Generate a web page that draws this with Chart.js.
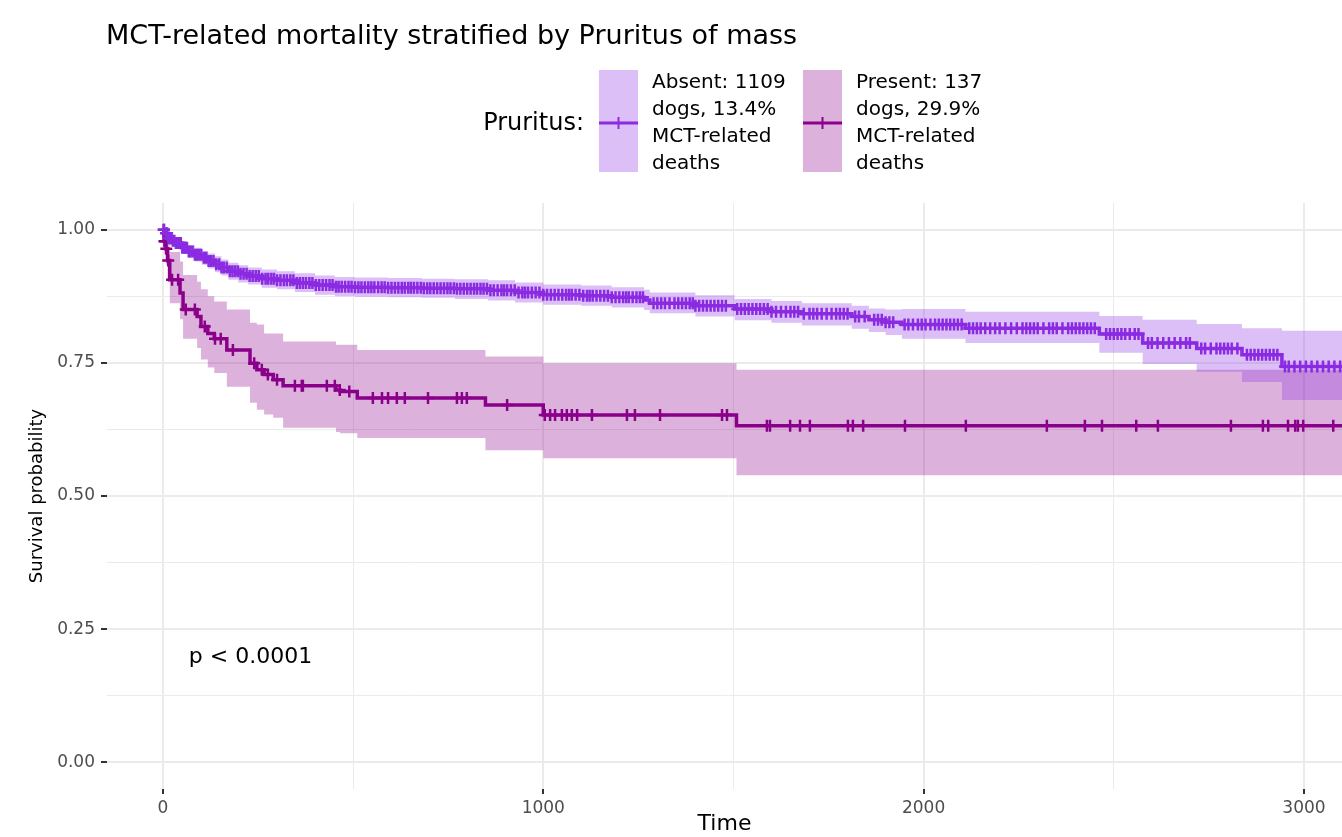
<!DOCTYPE html>
<html>
<head>
<meta charset="utf-8">
<title>MCT-related mortality stratified by Pruritus of mass</title>
<script src="https://cdn.jsdelivr.net/npm/chart.js@4/dist/chart.umd.min.js"></script>
<style>
	html, body { margin: 0; padding: 0; background: #ffffff; overflow: hidden; }
	#wrap { width: 1342px; height: 837px; }
</style>
</head>
<body>
<div id="wrap"><canvas id="figure_km" width="1342" height="837"></canvas></div>
<script>
const chartTitle = 'MCT-related mortality stratified by Pruritus of mass';
const legendTitle = 'Pruritus:';
const absentLabel = ['Absent: 1109', 'dogs, 13.4%', 'MCT-related', 'deaths'];
const presentLabel = ['Present: 137', 'dogs, 29.9%', 'MCT-related', 'deaths'];
const pValueText = 'p < 0.0001';
const pValueAt = [68, 0.197];

const xTicks = [0, 1000, 2000, 3000];
const xMinorTicks = [500, 1500, 2500];
const yTicks = [0, 0.25, 0.5, 0.75, 1];
const yMinorTicks = [0.125, 0.375, 0.625, 0.875];

// Absent group: step times, survival, 95% band
const absentTime = [0, 5, 14, 23, 32, 49, 67, 84, 102, 119, 137, 154, 172, 198, 224, 260, 300, 347, 400, 452, 505, 592, 681, 768, 855, 926, 1000, 1100, 1180, 1265, 1280, 1400, 1503, 1600, 1680, 1811, 1856, 1900, 1943, 2110, 2462, 2576, 2718, 2837, 2942, 3100];
const absentSurv = [1, 0.993, 0.984, 0.979, 0.975, 0.966, 0.959, 0.953, 0.947, 0.941, 0.935, 0.929, 0.922, 0.917, 0.913, 0.908, 0.905, 0.900, 0.896, 0.893, 0.892, 0.891, 0.890, 0.889, 0.886, 0.882, 0.878, 0.876, 0.873, 0.868, 0.862, 0.857, 0.851, 0.846, 0.842, 0.837, 0.831, 0.826, 0.822, 0.815, 0.804, 0.787, 0.777, 0.765, 0.743, 0.743];
const absentUpper = [1, 0.998, 0.992, 0.988, 0.985, 0.977, 0.971, 0.966, 0.960, 0.955, 0.950, 0.944, 0.938, 0.933, 0.929, 0.925, 0.922, 0.918, 0.914, 0.911, 0.910, 0.909, 0.908, 0.907, 0.905, 0.901, 0.897, 0.895, 0.892, 0.887, 0.882, 0.877, 0.870, 0.866, 0.862, 0.857, 0.852, 0.850, 0.851, 0.846, 0.838, 0.831, 0.823, 0.815, 0.810, 0.810];
const absentLower = [1, 0.988, 0.976, 0.970, 0.965, 0.955, 0.947, 0.940, 0.934, 0.927, 0.920, 0.914, 0.906, 0.901, 0.897, 0.891, 0.888, 0.883, 0.878, 0.875, 0.874, 0.873, 0.872, 0.870, 0.867, 0.863, 0.859, 0.857, 0.854, 0.849, 0.843, 0.837, 0.830, 0.825, 0.820, 0.814, 0.808, 0.802, 0.795, 0.787, 0.769, 0.748, 0.733, 0.714, 0.680, 0.680];
const absentCensor = [3, 8, 11, 15, 19, 22, 26, 30, 34, 38, 42, 47, 51, 55, 59, 63, 68, 72, 78, 84, 89, 95, 101, 108, 114, 120, 126, 133, 140, 148, 154, 160, 168, 176, 183, 190, 197, 204, 212, 220, 228, 236, 244, 252, 261, 270, 277, 285, 292, 300, 309, 318, 326, 335, 343, 352, 360, 368, 376, 385, 393, 402, 411, 420, 429, 438, 446, 455, 462, 470, 479, 488, 496, 505, 514, 522, 531, 540, 548, 556, 566, 575, 583, 592, 601, 610, 619, 628, 636, 645, 652, 660, 669, 678, 686, 695, 703, 712, 721, 730, 739, 748, 756, 765, 773, 782, 791, 800, 809, 818, 826, 835, 843, 852, 861, 870, 880, 890, 897, 905, 915, 925, 935, 945, 952, 960, 970, 980, 990, 1000, 1010, 1020, 1030, 1040, 1050, 1060, 1068, 1075, 1085, 1095, 1105, 1115, 1122, 1130, 1140, 1150, 1160, 1170, 1180, 1190, 1200, 1210, 1218, 1225, 1235, 1245, 1254, 1262, 1290, 1300, 1310, 1320, 1332, 1345, 1355, 1365, 1375, 1385, 1393, 1400, 1410, 1420, 1430, 1440, 1450, 1460, 1470, 1480, 1510, 1520, 1530, 1540, 1550, 1560, 1570, 1580, 1590, 1600, 1612, 1625, 1638, 1650, 1660, 1670, 1685, 1700, 1710, 1720, 1732, 1745, 1758, 1770, 1780, 1790, 1800, 1820, 1830, 1845, 1870, 1880, 1890, 1900, 1910, 1920, 1950, 1960, 1972, 1985, 1995, 2005, 2018, 2030, 2040, 2050, 2060, 2070, 2080, 2090, 2100, 2120, 2130, 2140, 2150, 2162, 2175, 2188, 2200, 2215, 2230, 2245, 2260, 2270, 2280, 2290, 2300, 2315, 2330, 2340, 2350, 2365, 2380, 2390, 2400, 2410, 2420, 2430, 2440, 2450, 2480, 2490, 2500, 2510, 2520, 2530, 2542, 2555, 2565, 2590, 2600, 2615, 2630, 2645, 2660, 2675, 2690, 2700, 2730, 2740, 2755, 2770, 2780, 2790, 2800, 2810, 2825, 2850, 2860, 2870, 2880, 2890, 2900, 2910, 2920, 2930, 2950, 2960, 2975, 2990, 3005, 3020, 3035, 3050, 3065, 3080, 3095];

// Present group: step times, survival, 95% band
const presentTime = [0, 3, 8, 12, 18, 45, 53, 90, 100, 118, 135, 168, 229, 247, 266, 290, 316, 455, 466, 511, 848, 1000, 1508, 3100];
const presentSurv = [1, 0.978, 0.964, 0.942, 0.906, 0.881, 0.850, 0.837, 0.818, 0.805, 0.795, 0.774, 0.749, 0.737, 0.728, 0.718, 0.707, 0.699, 0.696, 0.684, 0.671, 0.652, 0.632, 0.632];
const presentUpper = [1, 1, 0.995, 0.982, 0.958, 0.940, 0.915, 0.902, 0.888, 0.875, 0.865, 0.850, 0.825, 0.822, 0.805, 0.805, 0.790, 0.784, 0.784, 0.774, 0.762, 0.749, 0.737, 0.737];
const presentLower = [1, 0.954, 0.934, 0.904, 0.862, 0.832, 0.795, 0.778, 0.756, 0.741, 0.731, 0.705, 0.675, 0.662, 0.653, 0.647, 0.628, 0.620, 0.618, 0.609, 0.586, 0.571, 0.539, 0.539];
const presentCensor = [2, 4, 6, 9, 14, 24, 40, 60, 84, 110, 137, 152, 184, 240, 260, 276, 300, 347, 365, 368, 431, 452, 465, 490, 552, 576, 592, 615, 636, 697, 773, 786, 799, 905, 1004, 1018, 1031, 1049, 1062, 1075, 1089, 1128, 1220, 1241, 1307, 1470, 1483, 1588, 1596, 1649, 1675, 1701, 1801, 1814, 1841, 1951, 2111, 2324, 2424, 2469, 2559, 2616, 2808, 2892, 2906, 2958, 2977, 2984, 2998, 3077];

const absentColour = '#8a2be2';
const presentColour = '#8b008b';
const absentFill = 'rgba(138, 43, 226, 0.3)';
const presentFill = 'rgba(139, 0, 139, 0.3)';
const fontFamily = '"DejaVu Sans", "Liberation Sans", sans-serif';

document.addEventListener("DOMContentLoaded", () => {
	drawSurvival('figure_km');
});

function stepPoints(times, values) {
	return times.map((t, i) => ({ x: t, y: values[i] }));
}

function survivalAt(times, values, t) {
	let s = values[0];
	for (let i = 0; i < times.length; i++) {
		if (times[i] <= t) s = values[i];
	}
	return s;
}

function censorPoints(censor, times, values) {
	return censor.map(t => ({ x: t, y: survivalAt(times, values, t) }));
}

// title, legend and p-value, drawn the way ggsurvplot lays them out
const headerPlugin = {
	id: 'header',
	afterDraw(chart) {
		const ctx = chart.ctx;
		ctx.save();
		ctx.fillStyle = '#000000';
		ctx.textBaseline = 'middle';
		ctx.textAlign = 'left';
		ctx.font = '27px ' + fontFamily;
		ctx.fillText(chartTitle, 106, 37);

		ctx.font = '24px ' + fontFamily;
		ctx.textAlign = 'right';
		ctx.fillText(legendTitle, 584, 124);

		const keys = [
			{ left: 599, lines: absentLabel, fill: absentFill, colour: absentColour },
			{ left: 803, lines: presentLabel, fill: presentFill, colour: presentColour }
		];
		keys.forEach(k => {
			ctx.fillStyle = k.fill;
			ctx.fillRect(k.left, 70, 39, 102);
			ctx.strokeStyle = k.colour;
			ctx.lineWidth = 3;
			ctx.beginPath();
			ctx.moveTo(k.left, 123);
			ctx.lineTo(k.left + 39, 123);
			ctx.stroke();
			ctx.lineWidth = 2;
			ctx.beginPath();
			ctx.moveTo(k.left + 19.5, 117);
			ctx.lineTo(k.left + 19.5, 129);
			ctx.stroke();
			ctx.fillStyle = '#000000';
			ctx.textAlign = 'left';
			ctx.font = '20px ' + fontFamily;
			k.lines.forEach((line, i) => {
				ctx.fillText(line, k.left + 53, 83 + i * 27);
			});
		});

		ctx.font = '22px ' + fontFamily;
		ctx.textAlign = 'left';
		ctx.fillStyle = '#000000';
		ctx.fillText(pValueText, chart.scales.x.getPixelForValue(pValueAt[0]), chart.scales.y.getPixelForValue(pValueAt[1]));
		ctx.restore();
	}
};

function drawSurvival(id) {
	const container = document.getElementById(id);
	if (!container) return;

	const bandBase = { stepped: 'before', borderWidth: 0, borderColor: 'rgba(0,0,0,0)', pointRadius: 0, order: 3 };
	const lineBase = { stepped: 'before', borderWidth: 3.5, pointRadius: 0, fill: false, order: 1 };
	const censorBase = { showLine: false, pointStyle: 'cross', pointRadius: 6, pointBorderWidth: 2.5, order: 0 };

	const datasets = [
		Object.assign({}, bandBase, { label: 'Absent upper', data: stepPoints(absentTime, absentUpper), fill: '+1', backgroundColor: absentFill }),
		Object.assign({}, bandBase, { label: 'Absent lower', data: stepPoints(absentTime, absentLower), fill: false }),
		Object.assign({}, bandBase, { label: 'Present upper', data: stepPoints(presentTime, presentUpper), fill: '+1', backgroundColor: presentFill }),
		Object.assign({}, bandBase, { label: 'Present lower', data: stepPoints(presentTime, presentLower), fill: false }),
		Object.assign({}, lineBase, { label: 'Absent', data: stepPoints(absentTime, absentSurv), borderColor: absentColour }),
		Object.assign({}, lineBase, { label: 'Present', data: stepPoints(presentTime, presentSurv), borderColor: presentColour }),
		Object.assign({}, censorBase, { label: 'Absent censored', data: censorPoints(absentCensor, absentTime, absentSurv), pointBorderColor: absentColour, pointBackgroundColor: absentColour }),
		Object.assign({}, censorBase, { label: 'Present censored', data: censorPoints(presentCensor, presentTime, presentSurv), pointBorderColor: presentColour, pointBackgroundColor: presentColour })
	];

	const tickFont = { family: fontFamily, size: 17 };

	new Chart(container, {
		type: 'line',
		data: { datasets: datasets },
		options: {
			responsive: false,
			animation: false,
			events: [],
			layout: { autoPadding: false, padding: { top: 203, right: 0, bottom: 0, left: 0 } },
			plugins: {
				legend: { display: false },
				tooltip: { enabled: false },
				title: { display: false }
			},
			scales: {
				x: {
					type: 'linear',
					min: -147,
					max: 3100,
					afterBuildTicks: axis => {
						axis.ticks = xTicks.concat(xMinorTicks).sort((a, b) => a - b).map(v => ({ value: v }));
					},
					afterFit: axis => { axis.height = 48; },
					border: { display: false },
					grid: {
						color: '#ebebeb',
						lineWidth: c => (c.tick && xTicks.includes(c.tick.value)) ? 2 : 1,
						tickColor: c => (c.tick && xTicks.includes(c.tick.value)) ? '#333333' : 'rgba(0,0,0,0)',
						tickLength: 5,
						tickWidth: 2
					},
					ticks: {
						autoSkip: false,
						maxRotation: 0,
						padding: 4,
						color: '#4d4d4d',
						font: tickFont,
						callback: v => xTicks.includes(v) ? String(v) : ''
					},
					title: {
						display: true,
						text: 'Time',
						color: '#000000',
						font: { family: fontFamily, size: 22 },
						padding: { top: 0, bottom: 0 }
					}
				},
				y: {
					type: 'linear',
					min: -0.05,
					max: 1.05,
					afterBuildTicks: axis => {
						axis.ticks = yTicks.concat(yMinorTicks).sort((a, b) => a - b).map(v => ({ value: v }));
					},
					afterFit: axis => { axis.width = 107; },
					border: { display: false },
					grid: {
						color: '#ebebeb',
						lineWidth: c => (c.tick && yTicks.includes(c.tick.value)) ? 2 : 1,
						tickColor: c => (c.tick && yTicks.includes(c.tick.value)) ? '#333333' : 'rgba(0,0,0,0)',
						tickLength: 6,
						tickWidth: 2
					},
					ticks: {
						autoSkip: false,
						padding: 6,
						color: '#4d4d4d',
						font: tickFont,
						callback: v => yTicks.includes(v) ? v.toFixed(2) : ''
					},
					title: {
						display: true,
						text: 'Survival probability',
						color: '#000000',
						font: { family: fontFamily, size: 18 },
						padding: { top: 27, bottom: 0 }
					}
				}
			}
		},
		plugins: [headerPlugin]
	});
}
</script>
</body>
</html>
